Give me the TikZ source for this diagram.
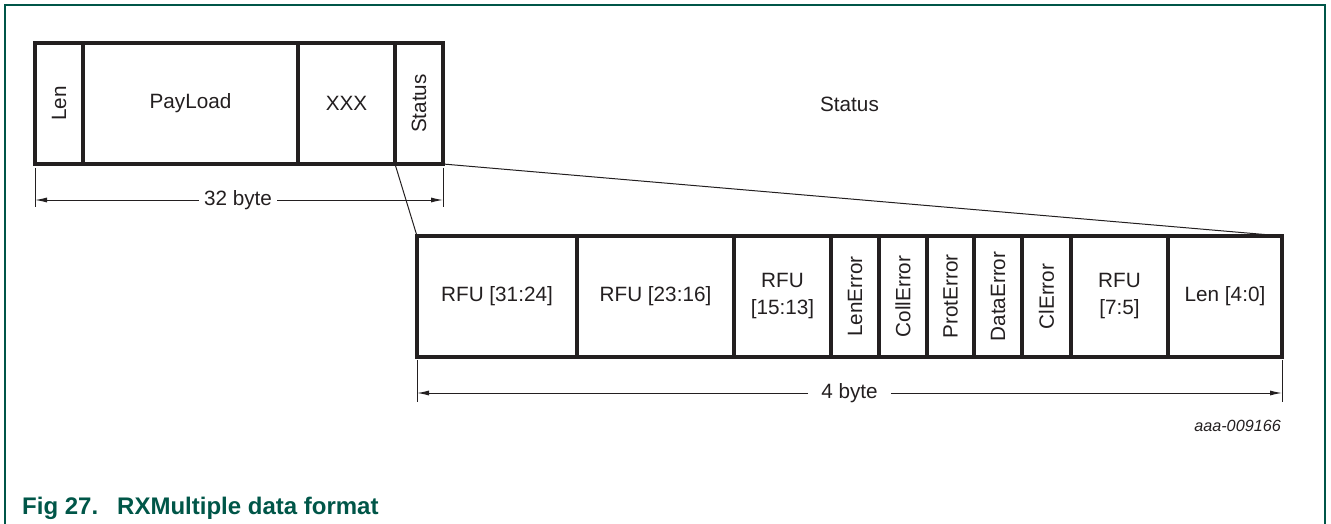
\documentclass[tikz,border=0pt]{standalone}
\usepackage{fontspec}
\setmainfont{Liberation Sans}
\usetikzlibrary{arrows.meta}
\definecolor{ink}{HTML}{231F20}
\definecolor{nxpgreen}{RGB}{0,86,72}
\begin{document}
\begin{tikzpicture}[x=1pt,y=-1pt,
  cell/.style={draw=ink, line width=3.3pt, inner sep=0pt, outer sep=0pt, anchor=north west, minimum height=121pt},
  lbl/.style={text=ink, font=\fontsize{20.7}{27}\selectfont, align=center, inner sep=0pt},
  vlbl/.style={lbl, rotate=90},
  thinline/.style={draw=ink, line width=1pt},
  dimarrow/.style={thinline, -{Latex[length=12pt,width=5pt]}},
  ]
\useasboundingbox (0,0) rectangle (1331,524);
% frame
\draw[nxpgreen, line width=1.5pt] (5,530) -- (5,5) -- (1325,5) -- (1325,530);

% top record
\node[cell, minimum width=48pt]  (tlen)  at (35,43)  {};
\node[cell, minimum width=215pt] (tpay)  at (83,43)  {};
\node[cell, minimum width=97pt]  (txxx)  at (298,43) {};
\node[cell, minimum width=48pt]  (tstat) at (395,43) {};
\node[vlbl] at (tlen.center) {Len};
\node[lbl]  at (tpay.center) {PayLoad};
\node[lbl]  at (txxx.center) {XXX};
\node[vlbl] at (tstat.center) {Status};

% top dimension
\coordinate (t1a) at (35,168);  \coordinate (t1b) at (35,207);
\coordinate (t2a) at (443,168); \coordinate (t2b) at (443,207);
\draw[thinline] (t1a) -- (t1b);
\draw[thinline] (t2a) -- (t2b);
\coordinate (d1l) at (35,200);
\coordinate (d1r) at (443,200);
\node[lbl, inner xsep=5pt] (t32) at (238,200) {32 byte};
\draw[dimarrow] (t32.west) -- (d1l);
\draw[dimarrow] (t32.east) -- (d1r);

% status label
\node[lbl, anchor=base] (stlabel) at (849.5,111.5) {Status};

% bottom record
\node[cell, minimum width=160pt] (b1)  at (417,236)  {};
\node[cell, minimum width=157pt] (b2)  at (577,236)  {};
\node[cell, minimum width=97pt]  (b3)  at (734,236)  {};
\node[cell, minimum width=48pt]  (b4)  at (831,236)  {};
\node[cell, minimum width=48pt]  (b5)  at (879,236)  {};
\node[cell, minimum width=47pt]  (b6)  at (927,236)  {};
\node[cell, minimum width=48pt]  (b7)  at (974,236)  {};
\node[cell, minimum width=49pt]  (b8)  at (1022,236) {};
\node[cell, minimum width=97pt]  (b9)  at (1071,236) {};
\node[cell, minimum width=114pt] (b10) at (1168,236) {};
\node[lbl]  at (b1.center) {RFU [31:24]};
\node[lbl]  at (b2.center) {RFU [23:16]};
\node[lbl]  at (b3.center) {RFU\\{}[15:13]};
\node[vlbl] at (b4.center) {LenError};
\node[vlbl] at (b5.center) {CollError};
\node[vlbl] at (b6.center) {ProtError};
\node[vlbl] at (b7.center) {DataError};
\node[vlbl] at (b8.center) {ClError};
\node[lbl]  at (b9.center) {RFU\\{}[7:5]};
\node[lbl]  at (b10.center) {Len [4:0]};

% expansion lines
\draw[thinline] (tstat.south west) -- (b1.north west);
\draw[thinline] (tstat.south east) -- (b10.north east);

% bottom dimension
\coordinate (t3a) at (417,360);  \coordinate (t3b) at (417,402);
\coordinate (t4a) at (1282,360); \coordinate (t4b) at (1282,402);
\draw[thinline] (t3a) -- (t3b);
\draw[thinline] (t4a) -- (t4b);
\coordinate (d2l) at (417,393);
\coordinate (d2r) at (1282,393);
\node[lbl, inner xsep=13pt] (t4) at (849.5,393) {4 byte};
\draw[dimarrow] (t4.west) -- (d2l);
\draw[dimarrow] (t4.east) -- (d2r);

% figure id
\node[text=ink, font=\fontsize{16.2}{19}\selectfont\itshape, inner sep=0pt, anchor=base east] (figid) at (1281,431) {aaa-009166};

% caption
\node[text=nxpgreen, font=\fontsize{24}{28}\selectfont\bfseries, inner sep=0pt, anchor=base west] (cap1) at (22,514) {Fig 27.};
\node[text=nxpgreen, font=\fontsize{24}{28}\selectfont\bfseries, inner sep=0pt, anchor=base west] (cap2) at (117,514) {RXMultiple data format};
\end{tikzpicture}
\end{document}
